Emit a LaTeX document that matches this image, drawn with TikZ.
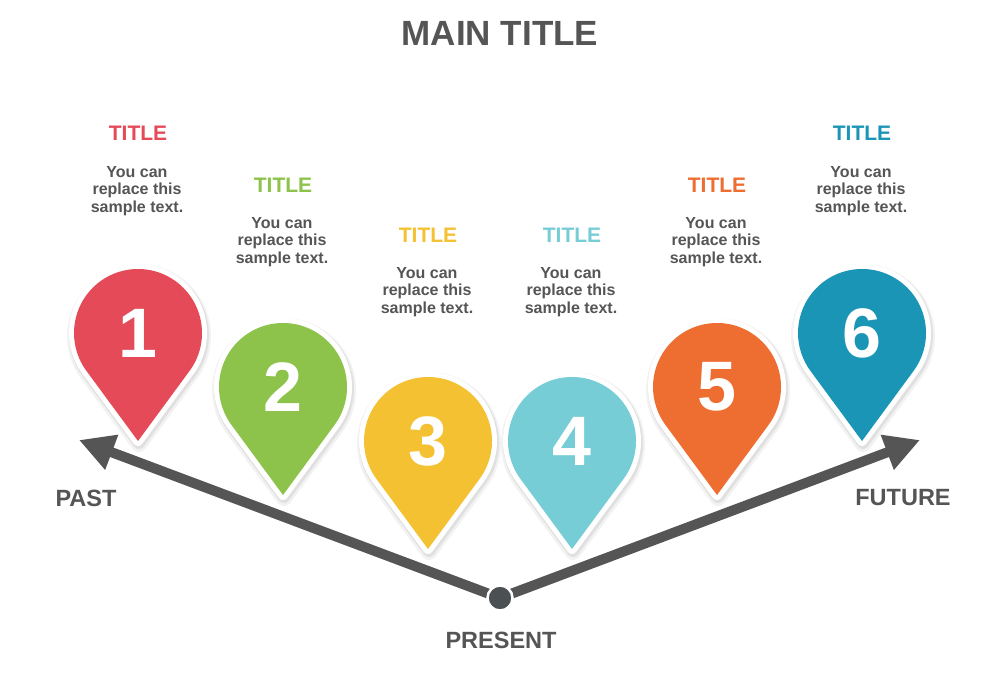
\documentclass[tikz,border=0pt]{standalone}
\usepackage{fontspec}
\setmainfont{Liberation Sans}
\usetikzlibrary{arrows.meta}
\definecolor{txtgray}{HTML}{555555}
\definecolor{arrgray}{HTML}{555555}
\definecolor{dotgray}{HTML}{4B5052}
\definecolor{cA}{HTML}{E54A59}
\definecolor{cB}{HTML}{8DC34A}
\definecolor{cC}{HTML}{F4C132}
\definecolor{cD}{HTML}{77CDD6}
\definecolor{cE}{HTML}{EE6D31}
\definecolor{cF}{HTML}{1A95B5}
\tikzset{
  pinshape/.style={insert path={(0,108) -- (36.34:64) arc[start angle=36.34, end angle=-216.34, radius=64] -- cycle}},
  pics/pin/.style args={#1/#2}{code={
    \draw[black, opacity=0.05, line width=16, line join=round, shift={(1,3)}, pinshape];
    \draw[black, opacity=0.07, line width=12, line join=round, shift={(1,2)}, pinshape];
    \draw[white, line width=10, line join=round, pinshape];
    \fill[#1, pinshape];
    \node[numtext] (-num) at (0,0) {#2};
  }},
  numtext/.style={text=white, font=\fontsize{70}{70}\selectfont\bfseries, inner sep=0pt},
  ttl/.style={text=#1, font=\fontsize{21}{21}\selectfont\bfseries, inner sep=0pt},
  body/.style={text=txtgray, align=center, font=\fontsize{16}{17.6}\selectfont\bfseries, inner sep=0pt},
  lbl/.style={text=txtgray, font=\fontsize{23.5}{23.5}\selectfont\bfseries, inner sep=0pt},
  timearrow/.style={draw=arrgray, line width=10, -{Triangle[length=35pt,width=35pt]}},
  dotnode/.style={circle, fill=dotgray, draw=white, line width=2.5, minimum size=25, inner sep=0pt},
}
\begin{document}
\begin{tikzpicture}[x=1pt,y=-1pt]
\useasboundingbox[fill=white] (0,0) rectangle (1000,676);
\node[text=txtgray, font=\fontsize{35}{35}\selectfont\bfseries, inner sep=0pt] (main) at (500,33) {MAIN TITLE};

% arrows
\coordinate (center) at (500,598);
\coordinate (pasttip) at (79,440);
\coordinate (futuretip) at (920,440);
\draw[timearrow] (center) -- (pasttip);
\draw[timearrow] (center) -- (futuretip);
\node[dotnode] (dot) at (center) {};

% pins
\pic (p1) at (138,333) {pin=cA/1};
\pic (p2) at (283,387) {pin=cB/2};
\pic (p3) at (428,441) {pin=cC/3};
\pic (p4) at (572,441) {pin=cD/4};
\pic (p5) at (717,387) {pin=cE/5};
\pic (p6) at (862,333) {pin=cF/6};

% titles and texts
\node[ttl=cA] (t1) at (138,133) {TITLE};
\node[body] (b1) at (137,191) {You can\\replace this\\sample text.};
\node[ttl=cB] (t2) at (283,185) {TITLE};
\node[body] (b2) at (282,242) {You can\\replace this\\sample text.};
\node[ttl=cC] (t3) at (428,235) {TITLE};
\node[body] (b3) at (427,292) {You can\\replace this\\sample text.};
\node[ttl=cD] (t4) at (572,235) {TITLE};
\node[body] (b4) at (571,292) {You can\\replace this\\sample text.};
\node[ttl=cE] (t5) at (717,185) {TITLE};
\node[body] (b5) at (716,242) {You can\\replace this\\sample text.};
\node[ttl=cF] (t6) at (862,133) {TITLE};
\node[body] (b6) at (861,191) {You can\\replace this\\sample text.};

% labels
\node[lbl] (past) at (86,498) {PAST};
\node[lbl] (future) at (903,498) {FUTURE};
\node[lbl] (present) at (501,640) {PRESENT};
\end{tikzpicture}
\end{document}
